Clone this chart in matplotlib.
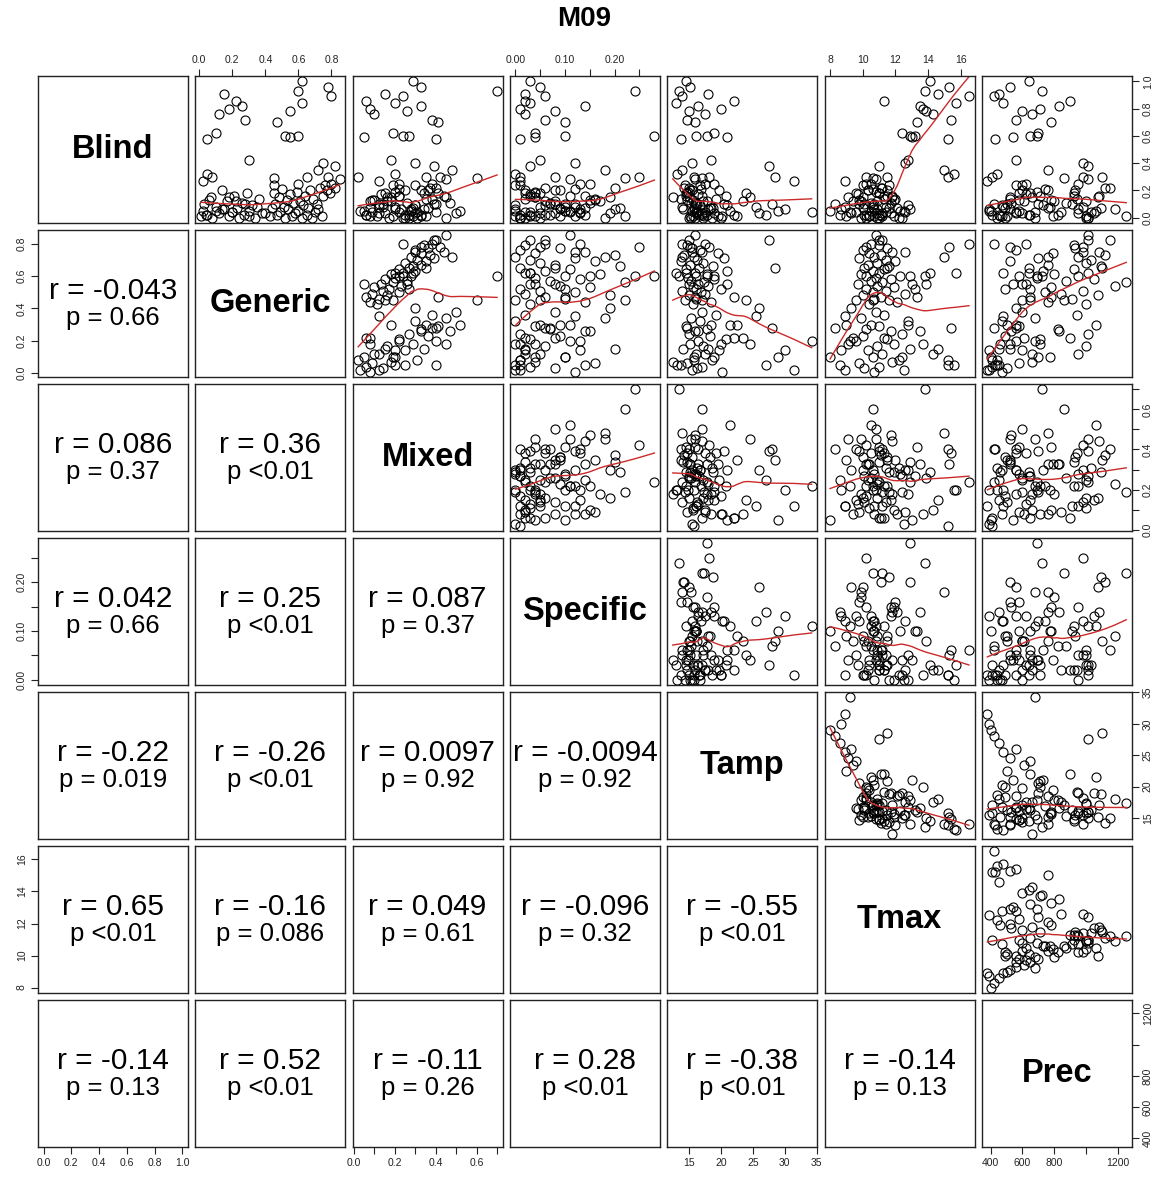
import numpy as np
import matplotlib
matplotlib.use("Agg")
import matplotlib.pyplot as plt

plt.rcParams['font.family'] = ['Liberation Sans', 'DejaVu Sans']

# ---------------- data ----------------
names = ["Blind", "Generic", "Mixed", "Specific", "Tamp", "Tmax", "Prec"]

blind = [1.00, 0.96, 0.93, 0.91, 0.89, 0.86, 0.84, 0.82, 0.80, 0.78, 0.76, 0.72, 0.70, 0.62, 0.60, 0.60, 0.59, 0.58,
         0.42, 0.40, 0.38, 0.35, 0.32, 0.30, 0.30, 0.29, 0.27, 0.25,
         0.05, 0.10, 0.02, 0.08, 0.15, 0.03, 0.12, 0.06, 0.01, 0.18, 0.04,
         0.28, 0.22, 0.25, 0.18, 0.30, 0.20, 0.24, 0.16, 0.01, 0.22, 0.06, 0.10, 0.04, 0.14, 0.00, 0.20, 0.07, 0.02, 0.16, 0.09,
         0.00, 0.12, 0.05, 0.19, 0.03, 0.11, 0.01, 0.17, 0.06, 0.13, 0.00, 0.08, 0.21, 0.04, 0.15, 0.02, 0.10, 0.24, 0.07, 0.01,
         0.03, 0.14, 0.00, 0.09, 0.05, 0.18, 0.02, 0.11, 0.00, 0.07, 0.16, 0.04, 0.01, 0.12, 0.06, 0.20, 0.03, 0.08, 0.00, 0.13,
         0.02, 0.10, 0.05, 0.01, 0.15]

generic = [0.62, 0.78, 0.60, 0.15, 0.80, 0.22, 0.62, 0.26, 0.18, 0.55, 0.12, 0.28, 0.47, 0.10, 0.60, 0.52, 0.55, 0.05,
           0.30, 0.75, 0.82, 0.72, 0.05, 0.08, 0.65, 0.45, 0.02, 0.60,
           0.10, 0.28, 0.05, 0.35, 0.18, 0.40, 0.22, 0.14, 0.30, 0.45, 0.20,
           0.85, 0.82, 0.80, 0.79, 0.78, 0.77, 0.76, 0.75, 0.74, 0.73, 0.72, 0.71, 0.70, 0.69, 0.68, 0.67, 0.66, 0.65, 0.64, 0.63,
           0.62, 0.61, 0.60, 0.59, 0.58, 0.57, 0.56, 0.55, 0.54, 0.53, 0.52, 0.51, 0.50, 0.49, 0.48, 0.47, 0.46, 0.45, 0.44, 0.43,
           0.38, 0.36, 0.34, 0.32, 0.30, 0.29, 0.27, 0.26, 0.24, 0.23, 0.21, 0.20, 0.18, 0.17, 0.15, 0.14, 0.12, 0.10, 0.08, 0.06,
           0.04, 0.03, 0.02, 0.01, 0.07]

mixed = [0.29, 0.33, 0.70, 0.15, 0.24, 0.06, 0.20, 0.33, 0.08, 0.26, 0.10, 0.38, 0.41, 0.19, 0.24, 0.27, 0.05, 0.40,
         0.18, 0.30, 0.39, 0.48, 0.20, 0.02, 0.35, 0.60, 0.12, 0.22,
         0.05, 0.40, 0.25, 0.12, 0.45, 0.30, 0.08, 0.20, 0.35, 0.15, 0.22,
         0.45, 0.40, 0.38, 0.34, 0.42, 0.36, 0.30, 0.44, 0.33, 0.37, 0.28, 0.39, 0.31, 0.35, 0.25, 0.33, 0.29, 0.27, 0.22, 0.30,
         0.24, 0.18, 0.28, 0.20, 0.15, 0.26, 0.19, 0.13, 0.23, 0.10, 0.17, 0.14, 0.22, 0.09, 0.16, 0.06, 0.12, 0.19, 0.08, 0.11,
         0.50, 0.38, 0.45, 0.30, 0.52, 0.41, 0.33, 0.47, 0.27, 0.36, 0.22, 0.40, 0.29, 0.16, 0.34, 0.25, 0.12, 0.20, 0.31, 0.09,
         0.06, 0.14, 0.03, 0.08, 0.18]

specific = [0.03, 0.05, 0.24, 0.02, 0.06, 0.02, 0.03, 0.14, 0.01, 0.08, 0.02, 0.06, 0.10, 0.04, 0.28, 0.10, 0.04, 0.01,
            0.05, 0.12, 0.03, 0.18, 0.00, 0.01, 0.08, 0.22, 0.01, 0.15,
            0.10, 0.07, 0.14, 0.12, 0.04, 0.19, 0.08, 0.13, 0.09, 0.05, 0.11,
            0.11, 0.06, 0.13, 0.02, 0.25, 0.09, 0.01, 0.14, 0.04, 0.20, 0.00, 0.12, 0.03, 0.16, 0.05, 0.08, 0.21, 0.01, 0.11, 0.06,
            0.02, 0.17, 0.10, 0.04, 0.13, 0.07, 0.22, 0.03, 0.09, 0.15, 0.01, 0.05, 0.12, 0.02, 0.19, 0.06, 0.10, 0.00, 0.14, 0.03,
            0.08, 0.02, 0.18, 0.00, 0.11, 0.04, 0.07, 0.15, 0.01, 0.09, 0.03, 0.13, 0.00, 0.06, 0.20, 0.02, 0.05, 0.10, 0.01, 0.16,
            0.03, 0.08, 0.00, 0.12, 0.04]

tamp = [14.5, 15.2, 13.5, 18.0, 14.0, 22.0, 13.0, 16.5, 20.0, 15.0, 17.5, 14.8, 16.0, 19.0, 17.8, 16.2, 21.0, 13.8,
        18.5, 15.5, 27.5, 14.0, 13.2, 15.8, 28.5, 17.0, 31.5, 19.0,
        29.0, 28.0, 27.0, 25.5, 24.5, 26.0, 23.5, 30.0, 22.5, 24.0, 34.2,
        16.0, 15.0, 17.5, 14.8, 18.2, 15.5, 16.8, 17.0, 19.5, 14.2, 15.8, 20.5, 16.3, 13.8, 17.2, 15.2, 18.8, 16.6, 14.5, 21.0,
        15.9, 17.8, 16.1, 14.9, 19.0, 15.3, 17.4, 16.4, 18.0, 15.6, 20.0, 14.0, 16.9, 17.6, 15.1, 22.0, 16.2, 14.4, 18.5, 15.7,
        17.1, 19.2, 15.4, 16.7, 21.5, 14.6, 17.9, 16.0, 15.0, 18.3, 20.8, 16.5, 15.2, 17.3, 14.1, 19.8, 16.1, 15.8, 18.6, 14.7,
        17.0, 16.3, 15.5, 20.2, 12.5]

tmax = [14.1, 15.3, 13.8, 14.6, 16.5, 11.3, 15.7, 13.5, 13.7, 13.9, 14.3, 15.4, 13.3, 12.4, 12.9, 13.2, 13.0, 15.2,
        12.8, 12.6, 11.0, 15.0, 15.6, 15.2, 11.5, 10.6, 8.9, 10.2,
        8.0, 8.3, 8.6, 8.9, 9.1, 9.3, 9.4, 8.7, 9.0, 9.6, 9.2,
        10.8, 11.2, 10.5, 11.0, 10.2, 11.5, 10.0, 11.8, 10.4, 11.1, 10.7, 9.8, 11.4, 12.0, 10.9, 10.3, 11.6, 10.1, 11.3, 10.6,
        11.0, 9.9, 12.3, 10.8, 11.7, 10.5, 11.2, 9.7, 10.9, 11.9, 10.2, 11.4, 10.6, 12.6, 10.0, 11.1, 10.7, 11.6, 12.1, 10.4,
        10.8, 11.3, 9.9, 12.8, 10.5, 11.0, 10.2, 11.7, 12.4, 10.0, 11.5, 9.6, 11.9, 10.9, 12.9, 10.3, 11.2, 10.6, 12.2, 9.8,
        11.0, 10.1, 12.5, 10.7, 11.8]

prec = [640, 520, 720, 450, 420, 900, 480, 830, 710, 600, 660, 560, 780, 700, 690, 650, 540, 430,
        560, 980, 1010, 760, 440, 410, 1100, 860, 380, 950,
        400, 420, 450, 480, 520, 560, 610, 390, 500, 650, 680,
        1010, 1150, 620, 920, 980, 930, 560, 1080, 790, 1120, 950, 700, 1030, 520, 1000, 760, 1090, 640, 920, 730,
        1010, 800, 580, 690, 1050, 870, 1250, 620, 1180, 780, 490, 980, 740, 840, 1070, 650, 910, 600, 760, 1000,
        600, 940, 680, 470, 1060, 580, 820, 530, 1010, 490, 710, 560, 460, 1000, 520, 600, 950, 770, 440, 580,
        410, 500, 390, 470, 660]

# correlation texts as printed in the lower panels (row i > col j)
r_lower = [
    ["-0.043"],
    ["0.086", "0.36"],
    ["0.042", "0.25", "0.087"],
    ["-0.22", "-0.26", "0.0097", "-0.0094"],
    ["0.65", "-0.16", "0.049", "-0.096", "-0.55"],
    ["-0.14", "0.52", "-0.11", "0.28", "-0.38", "-0.14"],
]
p_lower = [
    ["0.66"],
    ["0.37", "<0.01"],
    ["0.66", "<0.01", "0.37"],
    ["0.019", "<0.01", "0.92", "0.92"],
    ["<0.01", "0.086", "0.61", "0.32", "<0.01"],
    ["0.13", "<0.01", "0.26", "<0.01", "<0.01", "0.13"],
]

tick_pos = [
    [0.0, 0.2, 0.4, 0.6, 0.8, 1.0],
    [0.0, 0.2, 0.4, 0.6, 0.8],
    [0.0, 0.1, 0.2, 0.3, 0.4, 0.5, 0.6, 0.7],
    [0.0, 0.05, 0.10, 0.15, 0.20, 0.25],
    [15, 20, 25, 30, 35],
    [8, 10, 12, 14, 16],
    [400, 600, 800, 1000, 1200],
]
tick_lab = [
    ["0.0", "0.2", "0.4", "0.6", "0.8", "1.0"],
    ["0.0", "0.2", "0.4", "0.6", "0.8"],
    ["0.0", "", "0.2", "", "0.4", "", "0.6", ""],
    ["0.00", "", "0.10", "", "0.20", ""],
    ["15", "20", "25", "30", "35"],
    ["8", "10", "12", "14", "16"],
    ["400", "600", "800", "", "1200"],
]

data = [np.asarray(v, float) for v in (blind, generic, mixed, specific, tamp, tmax, prec)]
nv = len(names)


def lowess(x, y, f=2 / 3, iters=3):
    o = np.argsort(x)
    x = x[o]
    y = y[o]
    n = len(x)
    r = int(np.ceil(f * n))
    rob = np.ones(n)
    yest = np.zeros(n)
    for it in range(iters + 1):
        for i in range(n):
            d = np.abs(x - x[i])
            h = max(np.sort(d)[r - 1], 1e-12)
            u = np.clip(d / h, 0, 1)
            w = (1 - u ** 3) ** 3 * rob
            sw = w.sum()
            xm = (w * x).sum() / sw
            ym = (w * y).sum() / sw
            sxx = (w * (x - xm) ** 2).sum()
            b = (w * (x - xm) * (y - ym)).sum() / sxx if sxx > 1e-14 else 0.0
            yest[i] = ym + b * (x[i] - xm)
        if it == iters:
            break
        res = y - yest
        s = np.median(np.abs(res))
        if s == 0:
            break
        u = np.clip(res / (6 * s), -1, 1)
        rob = (1 - u ** 2) ** 2
    return x, yest


lims = []
for v in data:
    lo, hi = v.min(), v.max()
    pad = 0.04 * (hi - lo)
    lims.append((lo - pad, hi + pad))

W, H = 1168, 1178
fig = plt.figure(figsize=(W / 100, H / 100), dpi=100)

fig.text(0.5, 1 - 19 / H, "M09", ha="center", va="center", fontsize=20, fontweight="bold")

for i in range(nv):
    for j in range(nv):
        left = (38 + 157.3 * j) / W
        top = 76 + 154.0 * i
        ax = fig.add_axes([left, 1 - (top + 147) / H, 150 / W, 147 / H])
        ax.set_xlim(lims[j])
        ax.set_ylim(lims[i])
        for s in ax.spines.values():
            s.set_linewidth(1.0)
            s.set_color("#222222")
        ax.tick_params(which="both", bottom=False, top=False, left=False, right=False,
                       labelbottom=False, labeltop=False, labelleft=False, labelright=False,
                       length=5, width=0.8, labelsize=7.5, colors="#222222", pad=3)
        ax.set_xticks(tick_pos[j])
        ax.set_xticklabels(tick_lab[j])
        ax.set_yticks(tick_pos[i])
        ax.set_yticklabels(tick_lab[i], rotation=90, va="center")

        if i == 0 and j % 2 == 1:
            ax.tick_params(axis="x", top=True, labeltop=True)
        if i == nv - 1 and j % 2 == 0:
            ax.tick_params(axis="x", bottom=True, labelbottom=True)
        if j == 0 and i % 2 == 1:
            ax.tick_params(axis="y", left=True, labelleft=True)
        if j == nv - 1 and i % 2 == 0:
            ax.tick_params(axis="y", right=True, labelright=True)

        if i == j:
            ax.text(0.5, 0.5, names[i], transform=ax.transAxes, ha="center", va="center",
                    fontsize=23.5, fontweight="bold")
        elif j > i:
            x, y = data[j], data[i]
            ax.plot(x, y, linestyle="none", marker="o", markersize=6.5, markerfacecolor="none",
                    markeredgecolor="black", markeredgewidth=0.8)
            xs, ys = lowess(x, y)
            ax.plot(xs, ys, color="#cc2a2a", linewidth=1.0)
        else:
            rt = r_lower[i - 1][j]
            pt = p_lower[i - 1][j]
            ptxt = "p " + pt if pt.startswith("<") else "p = " + pt
            ax.text(0.5, 0.585, "r = " + rt, transform=ax.transAxes, ha="center", va="center", fontsize=21.5)
            ax.text(0.5, 0.40, ptxt, transform=ax.transAxes, ha="center", va="center", fontsize=18.5)

fig.savefig("out.png", dpi=100)
